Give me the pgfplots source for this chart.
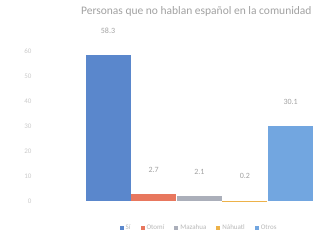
\documentclass[border=0pt]{standalone}
\usepackage{fontspec}
\setmainfont{Carlito}
\usepackage{pgfplots}
\pgfplotsset{compat=1.18}
\definecolor{cA}{HTML}{5A87CC}
\definecolor{cB}{HTML}{E8775E}
\definecolor{cC}{HTML}{ABAFBA}
\definecolor{cD}{HTML}{EDB24A}
\definecolor{cE}{HTML}{72A6E0}
\definecolor{txt}{HTML}{8A8A8A}
\begin{document}
\begin{tikzpicture}
\begin{axis}[
  at={(35pt,40pt)}, anchor=south west,
  scale only axis, width=283pt, height=162.5pt,
  xmin=-1.6, xmax=4.6, ymin=0, ymax=65,
  ybar=0pt, bar width=45pt, bar shift=0pt,
  axis line style={draw=none},
  xtick=\empty, ytick={0,10,...,60},
  yticklabel style={font=\fontsize{7}{8}\selectfont, text=txt!45},
  major tick length=0pt,
  /pgf/number format/assume math mode=true,
  nodes near coords,
  every node near coord/.append style={font=\fontsize{8}{9}\selectfont, text=txt!80, yshift=18pt},
  title={Personas que no hablan español en la comunidad},
  title style={font=\fontsize{11.5}{13}\selectfont, text=txt!80, at={(0.57,1)}, yshift=13pt, anchor=south},
  legend style={draw=none, font=\fontsize{7}{9}\selectfont, text=txt!60, at={(0.58,-0.12)}, anchor=north, legend columns=5,
    /tikz/every even column/.append style={column sep=8pt}},
  legend image code/.code={\fill[#1] (0pt,-2pt) rectangle (4pt,2pt);},
]
\addplot[fill=cA, draw=none] coordinates {(0,58.3)};
\addplot[fill=cB, draw=none] coordinates {(1,2.7)};
\addplot[fill=cC, draw=none] coordinates {(2,2.1)};
\addplot[fill=cD, draw=none] coordinates {(3,0.2)};
\addplot[fill=cE, draw=none] coordinates {(4,30.1)};
\legend{Sí, Otomí, Mazahua, Náhuatl, Otros}
\end{axis}
\pgfresetboundingbox
\path[use as bounding box] (0,0) rectangle (329pt,241pt);
\end{tikzpicture}
\end{document}
